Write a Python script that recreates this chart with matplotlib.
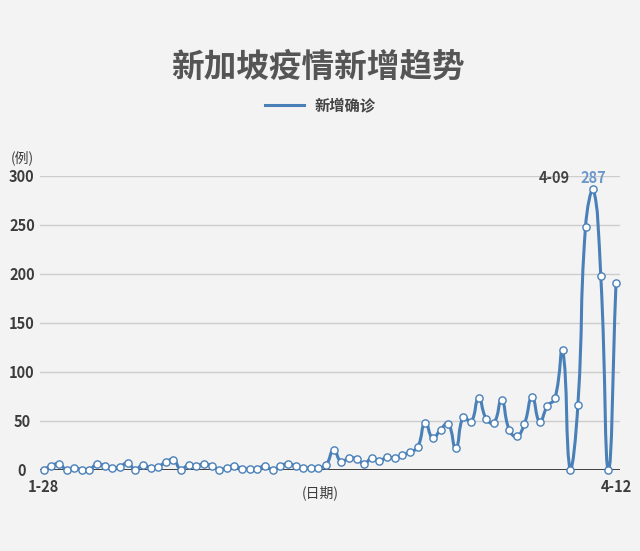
import matplotlib
matplotlib.use("Agg")
import matplotlib.pyplot as plt
import numpy as np
import pandas as pd
from matplotlib.path import Path
from matplotlib.patches import PathPatch
from matplotlib.lines import Line2D

plt.rcParams['font.family'] = ['Noto Sans CJK SC', 'DejaVu Sans']

# daily new confirmed cases, 1-28 .. 4-12
dates = [f"{d.month}-{d.day:02d}" for d in pd.date_range("2020-01-28", "2020-04-12")]
cases = [0, 4, 6, 0, 2, 0, 0, 6, 4, 2,
         3, 7, 0, 5, 2, 3, 8, 10, 0, 5,
         4, 6, 4, 0, 2, 4, 1, 1, 1, 4,
         0, 4, 6, 4, 2, 2, 2, 5,
         20, 8, 12, 11, 6, 12, 9, 13, 12, 15, 18, 23, 48, 32, 41, 47,
         22, 54, 49, 73, 52, 48, 71, 41, 34, 47, 74, 49, 65, 73, 122,
         0, 66, 248, 287, 198, 0, 191]
y_ticks = [0, 50, 100, 150, 200, 250, 300]
x_tick_labels = ["1-28", "4-12"]
peak_date = "4-09"

BLUE = "#4a80b8"
BG = "#f3f3f3"


def smooth_path(xs, ys, smooth=0.5, sx=7.63, sy=0.979):
    # echarts-like bezier smoothing, control points clamped to data range
    px = np.asarray(xs, float) * sx
    py = np.asarray(ys, float) * sy
    n = len(px)
    lo, hi = py.min(), py.max()
    cin, cout = [], []
    for i in range(n):
        p = max(i - 1, 0)
        q = min(i + 1, n - 1)
        vx, vy = px[q] - px[p], py[q] - py[p]
        d0 = np.hypot(px[i] - px[p], py[i] - py[p])
        d1 = np.hypot(px[q] - px[i], py[q] - py[i])
        r = d1 / (d0 + d1) if d0 + d1 > 0 else 0.5
        cin.append((px[i] - vx * smooth * (1 - r), np.clip(py[i] - vy * smooth * (1 - r), lo, hi)))
        cout.append((px[i] + vx * smooth * r, np.clip(py[i] + vy * smooth * r, lo, hi)))
    verts = [(px[0], py[0])]
    codes = [Path.MOVETO]
    for i in range(1, n):
        verts += [cout[i - 1], cin[i], (px[i], py[i])]
        codes += [Path.CURVE4] * 3
    verts = np.array(verts)
    verts[:, 0] /= sx
    verts[:, 1] /= sy
    return Path(verts, codes)


x = np.arange(len(cases))

fig = plt.figure(figsize=(6.4, 5.51), dpi=100, facecolor=BG)
ax = fig.add_axes([40 / 640, 81.3 / 551, 580 / 640, 293.7 / 551], facecolor=BG)

ax.set_xlim(-0.485, len(cases) - 1 + 0.52)
ax.set_ylim(0, 300)

ax.yaxis.grid(True, color="#cdcdcd", lw=1)
ax.set_axisbelow(True)
ax.axhline(0, color="#333333", lw=1.3, zorder=1)
for s in ax.spines.values():
    s.set_visible(False)

ax.add_patch(PathPatch(smooth_path(x, cases), fill=False, edgecolor=BLUE, lw=2.2,
                       zorder=2, clip_on=False, capstyle="round", joinstyle="round"))
ax.plot(x, cases, "o", ms=5.2, mfc="white", mec=BLUE, mew=1, zorder=3, clip_on=False)

ax.set_yticks(y_ticks)
ax.set_yticklabels([str(v) for v in y_ticks], ha="center", fontsize=10.5, color="#3c3c3c")
ax.tick_params(axis="y", length=0, pad=13)
ax.set_xticks([dates.index(x_tick_labels[0]), dates.index(x_tick_labels[1])])
ax.set_xticklabels(x_tick_labels, fontsize=10.5, color="#3c3c3c", fontweight="bold")
ax.tick_params(axis="x", length=0, pad=7)
for t in ax.get_yticklabels():
    t.set_fontweight("bold")

fig.text(22 / 640, 1 - 158 / 551, "(例)", ha="center", va="center", fontsize=10, color="#3c3c3c")
fig.text(320 / 640, 1 - 493 / 551, "(日期)", ha="center", va="center", fontsize=10, color="#3c3c3c")

ip = dates.index(peak_date)
ax.annotate(str(cases[ip]), xy=(ip, cases[ip]), xytext=(0, 7.5), textcoords="offset points",
            ha="center", va="center", fontsize=10.5, fontweight="bold", color="#6b98c9")
ax.annotate(peak_date, xy=(ip, cases[ip]), xytext=(-16.5, 7.5), textcoords="offset points",
            ha="right", va="center", fontsize=10.5, fontweight="bold", color="#444444")

fig.text(318 / 640, 1 - 67 / 551, "新加坡疫情新增趋势", ha="center", va="center",
         fontsize=23.5, fontweight="bold", color="#555555")

handle = Line2D([], [], color=BLUE, lw=2.2)
fig.legend([handle], ["新增确诊"], loc="center", bbox_to_anchor=(320 / 640, 1 - 105 / 551),
           frameon=False, handlelength=2.6, handletextpad=0.65, borderpad=0,
           prop={"size": 11, "weight": "bold"}, labelcolor="#444444")

fig.savefig("out.png", dpi=100, facecolor=BG)
